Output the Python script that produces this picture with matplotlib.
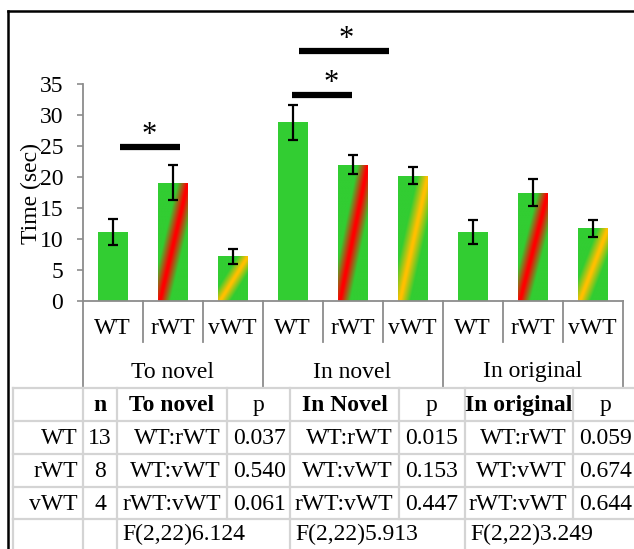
import numpy as np
import matplotlib
matplotlib.use("Agg")
import matplotlib.pyplot as plt
from matplotlib.lines import Line2D
from matplotlib.transforms import blended_transform_factory

plt.rcParams['font.family'] = ['Liberation Serif', 'DejaVu Serif']

# ---- data -------------------------------------------------------------
conditions = ['To novel', 'In novel', 'In original']
genotypes = ['WT', 'rWT', 'vWT']
to_novel = [11.1, 19.1, 7.2]
in_novel = [28.8, 22.0, 20.2]
in_original = [11.1, 17.5, 11.7]
to_novel_err = [2.1, 2.8, 1.2]
in_novel_err = [2.8, 1.5, 1.4]
in_original_err = [1.9, 2.2, 1.3]

# significance brackets: (x start, x end, height, star x)
sig_bars = [(0.125, 1.125, 24.8, 0.61),
            (2.99, 3.99, 33.2, 3.64),
            (3.11, 4.61, 40.3, 3.90)]

# statistics table
table_header = ['', 'n', 'To novel', 'p', 'In Novel', 'p', 'In original', 'p']
group_n = [13, 8, 4]
comparisons = ['WT:rWT', 'WT:vWT', 'rWT:vWT']
p_to_novel = ['0.037', '0.540', '0.061']
p_in_novel = ['0.015', '0.153', '0.447']
p_in_original = ['0.059', '0.674', '0.644']
f_stats = ['F(2,22)6.124', 'F(2,22)5.913', 'F(2,22)3.249']

# ---- figure -----------------------------------------------------------
W, H = 634, 549
fig = plt.figure(figsize=(W / 100, H / 100), dpi=100)

def fx(x):
    return x / W

def fy(y):
    return 1 - y / H

FS = 17

ax = fig.add_axes([fx(82.5), fy(301), fx(622.5) - fx(82.5), fy(84) - fy(301)])

values = np.array(to_novel + in_novel + in_original)
errors = np.array(to_novel_err + in_novel_err + in_original_err)
xpos = np.arange(len(values))

GREEN = np.array([50, 205, 50]) / 255
STRIPE = {'rWT': np.array([255, 0, 0]) / 255,
          'vWT': np.array([255, 192, 0]) / 255}

bars = ax.bar(xpos, values, width=0.5, color=GREEN, linewidth=0, zorder=2)

# diagonal gradient stripe inside the rWT / vWT bars
ny, nx = 300, 80
u = np.linspace(0, 1, nx)[None, :]
v = np.linspace(0, 1, ny)[:, None]
t = np.abs(u - 0.06 - 0.95 * v)
w = np.clip(1 - (t - 0.03) / 0.32, 0, 1)[..., None]
for i, bar in enumerate(bars):
    g = genotypes[i % 3]
    if g not in STRIPE:
        continue
    img = GREEN * (1 - w) + STRIPE[g] * w
    x0 = bar.get_x()
    im = ax.imshow(img, origin='lower', aspect='auto', interpolation='bilinear',
                   extent=(x0, x0 + bar.get_width(), 0, bar.get_height()), zorder=2)
    im.set_clip_path(bar)

ax.errorbar(xpos, values, yerr=errors, fmt='none', ecolor='black',
            elinewidth=1.6, capsize=3.6, capthick=1.6, zorder=3)

for xs, xe, yb, xstar in sig_bars:
    ax.plot([xs, xe], [yb, yb], color='black', lw=4.5, solid_capstyle='butt',
            clip_on=False, zorder=4)
    ax.annotate('*', xy=(xstar, yb), xytext=(0, 3), textcoords='offset points',
                ha='center', va='baseline', fontsize=22, annotation_clip=False)

ax.set_xlim(-0.5, len(values) - 0.5)
ax.set_ylim(0, 35)
ax.set_yticks(np.arange(0, 36, 5))
ax.tick_params(axis='y', labelsize=FS, length=4, width=1.2, color='#8c8c8c', pad=10)
ax.set_xticks([])
for s in ['top', 'right']:
    ax.spines[s].set_visible(False)
for s in ['left', 'bottom']:
    ax.spines[s].set_color('#8c8c8c')
    ax.spines[s].set_linewidth(1.3)

fig.text(fx(31), fy(194), 'Time (sec)', rotation=90, ha='center', va='center',
         fontsize=FS)

# two-level category axis
bt = blended_transform_factory(ax.transData, fig.transFigure)
AXC = '#8c8c8c'
for k in range(len(values) + 1):
    xb = k - 0.5
    bottom = 388 if k % 3 == 0 else 342
    fig.add_artist(Line2D([xb, xb], [fy(301), fy(bottom)], transform=bt,
                          color=AXC, lw=1.3))
for i in xpos:
    fig.text(i, fy(329), genotypes[i % 3], transform=bt, ha='center',
             va='center', fontsize=FS)
for j, c in enumerate(conditions):
    fig.text(3 * j + 1, fy(372), c, transform=bt, ha='center', va='center',
             fontsize=FS)

# statistics table
GRID = '#d4d4d4'
cols = [13, 83, 117, 227, 290, 399, 465, 573, 645]
rows = [388, 421, 454, 487, 519, 552]
for y in rows[:-1]:
    fig.add_artist(Line2D([fx(13), fx(645)], [fy(y), fy(y)], color=GRID, lw=1.6))
for c in cols:
    fig.add_artist(Line2D([fx(c), fx(c)], [fy(388), fy(519)], color=GRID, lw=1.6))
for c in [13, 83, 117, 290, 465]:
    fig.add_artist(Line2D([fx(c), fx(c)], [fy(519), fy(560)], color=GRID, lw=1.6))

def cell_y(r):
    return fy((rows[r] + rows[r + 1]) / 2 + 1)

for ci, txt in enumerate(table_header):
    if not txt:
        continue
    cx = (cols[ci] + cols[ci + 1]) / 2
    if ci == len(cols) - 2:
        cx = 606
    bold = txt != 'p'
    fig.text(fx(cx), cell_y(0), txt, ha='center', va='center', fontsize=FS,
             fontweight='bold' if bold else 'normal')

p_cols = [p_to_novel, p_in_novel, p_in_original]
for r in range(3):
    yy = cell_y(r + 1)
    fig.text(fx(78), yy, genotypes[r], ha='right', va='center', fontsize=FS)
    fig.text(fx(100), yy, str(group_n[r]), ha='center', va='center', fontsize=FS)
    for j in range(3):
        c_p = cols[3 + 2 * j]
        fig.text(fx(c_p - 6), yy, comparisons[r], ha='right', va='center', fontsize=FS)
        fig.text(fx(c_p + 6), yy, p_cols[j][r], ha='left', va='center', fontsize=FS)

for j in range(3):
    fig.text(fx(cols[2 + 2 * j] + 5), fy(534), f_stats[j], ha='left',
             va='center', fontsize=FS)

# outer frame
fig.add_artist(Line2D([fx(8), fx(640)], [fy(11), fy(11)], color='black', lw=1.8))
fig.add_artist(Line2D([fx(8), fx(8)], [fy(11), fy(560)], color='black', lw=1.8))

fig.savefig('out.png', dpi=100)
